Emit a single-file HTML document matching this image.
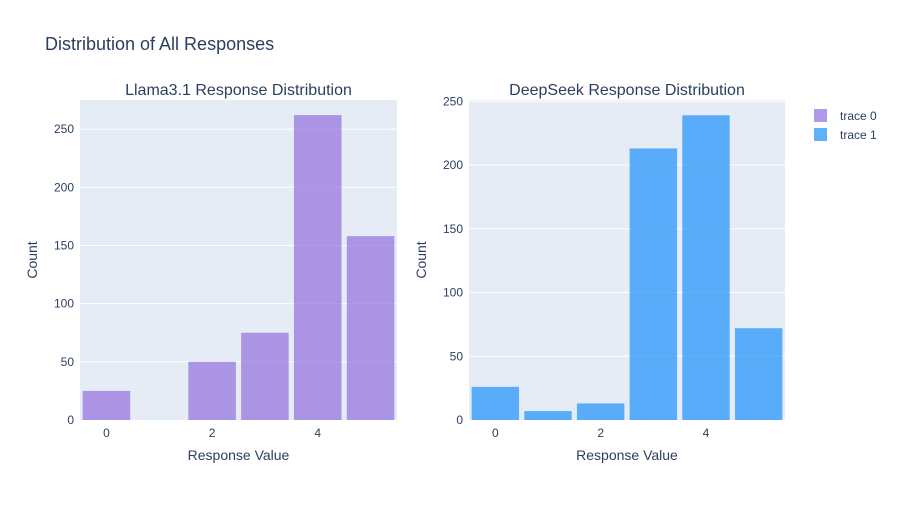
<!DOCTYPE html>
<html><head><meta charset="utf-8"><style>
body{margin:0;background:#fff;font-family:"Liberation Sans",Arial,sans-serif;}
svg text{font-family:"Liberation Sans",Arial,sans-serif;fill:#2a3f5f;}
</style></head><body>
<svg id="chart" width="900" height="500">
<text x="45" y="50" font-size="18">Distribution of All Responses</text>
<g id="p1"></g><g id="p2"></g>
<g>
<rect x="814" y="109" width="13" height="13" fill="#9877df" fill-opacity="0.75"/>
<text x="840" y="120" font-size="12">trace 0</text>
<rect x="814" y="128" width="13" height="13" fill="#2997fb" fill-opacity="0.75"/>
<text x="840" y="139" font-size="12">trace 1</text>
</g>
</svg>
<script>
const categories=[0,1,2,3,4,5];
const llamaCounts=[25,0,50,75,262,158];
const deepseekCounts=[26,7,13,213,239,72];
const llamaTicks=[0,50,100,150,200,250];
const deepseekTicks=[0,50,100,150,200,250];
const xTicks=[0,2,4];
const NS="http://www.w3.org/2000/svg";
function mk(t,a,p){const e=document.createElementNS(NS,t);for(const k in a)e.setAttribute(k,a[k]);p.appendChild(e);return e;}
function panel(g,x0,x1,yMax,vals,ticks,color,title,key){
  const y0=420,yT=100;
  const sx=v=>x0+(v+0.5)/6*(x1-x0);
  const sy=v=>y0-v/yMax*(y0-yT);
  const bg=mk('rect',{x:x0,y:yT,width:x1-x0,height:y0-yT,fill:'#e5ecf6'},g);
  
  
  ticks.forEach(t=>{
    if(t>0){const l=mk('line',{x1:x0,x2:x1,y1:sy(t),y2:sy(t),stroke:'#fff','stroke-width':1},g);
    
    }
    const tx=mk('text',{x:x0-6,y:sy(t)+4,'font-size':12,'text-anchor':'end'},g);tx.textContent=t;
    
    
  });
  xTicks.forEach(t=>{
    const tx=mk('text',{x:sx(t),y:y0+17,'font-size':12,'text-anchor':'middle'},g);tx.textContent=t;
    
    
  });
  const bw=(x1-x0)/6*0.9;
  categories.forEach((c,i)=>{
    const b=mk('rect',{x:sx(c)-bw/2,y:sy(vals[i]),width:bw,height:y0-sy(vals[i]),fill:color,'fill-opacity':0.75},g);
    
    
  });
  const ti=mk('text',{x:(x0+x1)/2,y:yT-5,'font-size':16,'text-anchor':'middle'},g);ti.textContent=title;
  
  
  const xl=mk('text',{x:(x0+x1)/2,y:460,'font-size':14,'text-anchor':'middle'},g);xl.textContent='Response Value';
  
  
  const yl=mk('text',{x:0,y:0,'font-size':14,'text-anchor':'middle',transform:`translate(${x0-43},260) rotate(-90)`},g);yl.textContent='Count';
  
  
}
panel(document.getElementById('p1'),80,397,275,llamaCounts,llamaTicks,'#9877df','Llama3.1 Response Distribution','llama');
panel(document.getElementById('p2'),469,785,251,deepseekCounts,deepseekTicks,'#2997fb','DeepSeek Response Distribution','deepseek');
</script>
</body></html>
